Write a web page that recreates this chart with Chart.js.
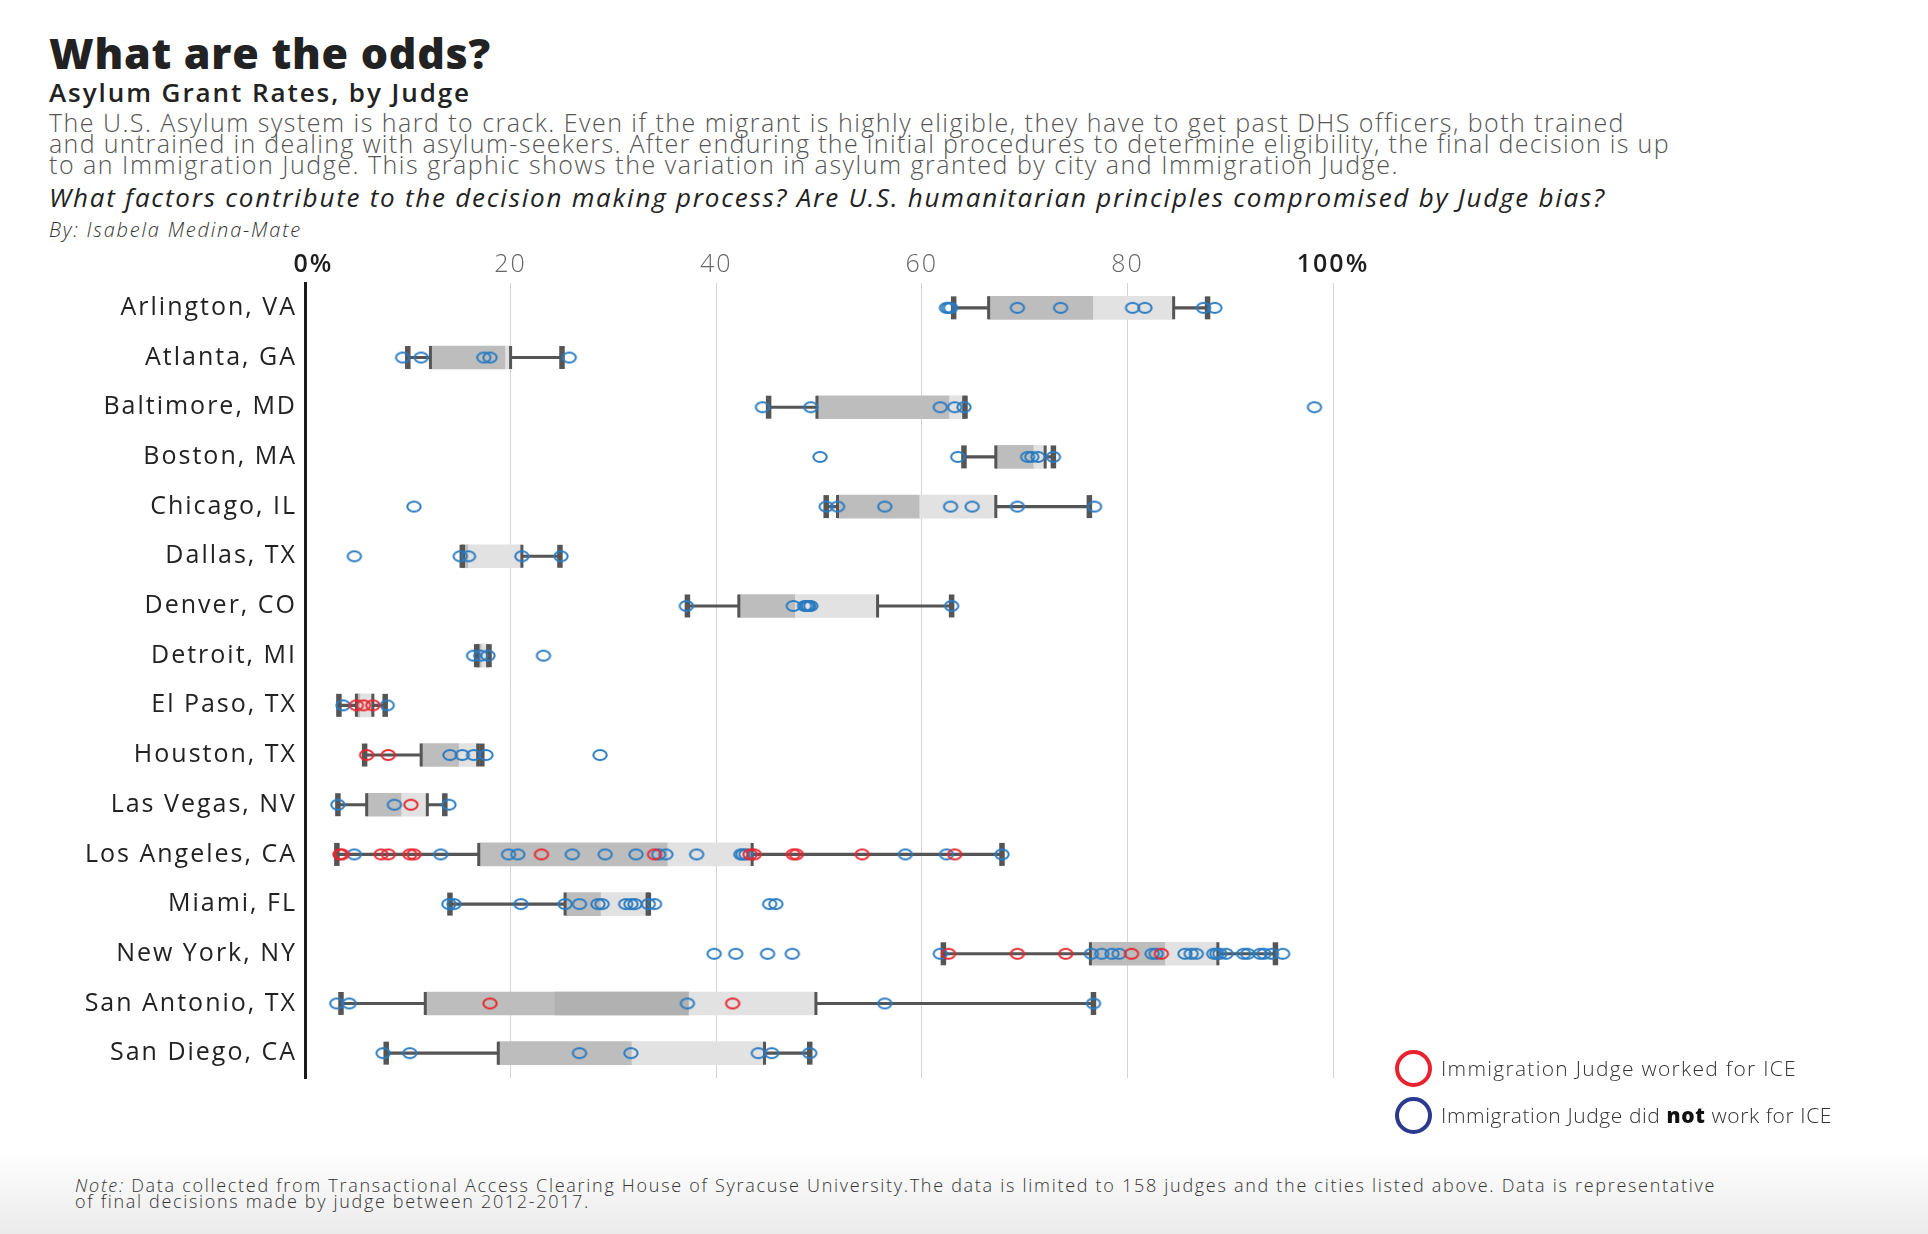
<!DOCTYPE html>
<html>
<head>
<meta charset="utf-8">
<script src="https://cdn.jsdelivr.net/npm/chart.js@4.4.1/dist/chart.umd.min.js"></script>
<style>
  html, body { margin:0; padding:0; }
  body { width:1928px; height:1234px; position:relative; overflow:hidden;
         font-family: "Open Sans", Lato, sans-serif;
         background: linear-gradient(to bottom, #ffffff 0px, #ffffff 1150px, #ebebeb 1234px); }
  .t { position:absolute; left:49px; white-space:nowrap; }
  #title { top:29px; font-size:43px; line-height:48px; font-weight:800; color:#222; }
  #sub { top:78px; font-size:26px; line-height:28px; font-weight:600; color:#222; }
  .para { font-size:25px; line-height:21px; font-weight:300; color:#555; }
  #q { top:183px; font-size:26px; line-height:28px; font-style:italic; color:#222; }
  #by { top:219px; font-size:20px; line-height:22px; font-style:italic; font-weight:300; color:#333; }
  .note { left:75px; font-size:18px; line-height:16px; font-weight:300; color:#333; }
  #chartbox { position:absolute; left:0; top:231px; width:1928px; height:870px; }
  .lc { position:absolute; width:29px; height:29px; border-radius:50%; border:4px solid; }
  .lt { position:absolute; left:1441px; font-size:21px; line-height:24px; font-weight:300; color:#333; white-space:nowrap; }
</style>
</head>
<body>
<div class="t fit" data-w="442" id="title">What are the odds?</div>
<div class="t fit" data-w="422" id="sub">Asylum Grant Rates, by Judge</div>
<div class="t fit para" data-w="1576" style="top:112px">The U.S. Asylum system is hard to crack. Even if the migrant is highly eligible, they have to get past DHS officers, both trained</div>
<div class="t fit para" data-w="1621" style="top:133px">and untrained in dealing with asylum-seekers. After enduring the initial procedures to determine eligibility, the final decision is up</div>
<div class="t fit para" data-w="1350" style="top:154px">to an Immigration Judge. This graphic shows the variation in asylum granted by city and Immigration Judge.</div>
<div class="t fit" data-w="1557" id="q">What factors contribute to the decision making process? Are U.S. humanitarian principles compromised by Judge bias?</div>
<div class="t fit" data-w="253" id="by">By: Isabela Medina-Mate</div>
<div id="chartbox"><canvas id="c"></canvas></div>
<div class="lc" style="left:1395px; top:1050px; border-color:#e8232f;"></div>
<div class="lc" style="left:1395px; top:1097px; border-color:#2b3990;"></div>
<div class="lt fit" data-w="356" style="top:1056px;">Immigration Judge worked for ICE</div>
<div class="lt fit" data-w="391" style="top:1103px;">Immigration Judge did <b style="font-weight:800;color:#111">not</b> work for ICE</div>
<div class="t fit note" data-w="1641" style="top:1177px"><i>Note:</i> Data collected from Transactional Access Clearing House of Syracuse University.The data is limited to 158 judges and the cities listed above. Data is representative</div>
<div class="t fit note" data-w="515" style="top:1193px">of final decisions made by judge between 2012-2017.</div>
<script>
const cities = ["Arlington, VA","Atlanta, GA","Baltimore, MD","Boston, MA","Chicago, IL","Dallas, TX","Denver, CO","Detroit, MI","El Paso, TX","Houston, TX","Las Vegas, NV","Los Angeles, CA","Miami, FL","New York, NY","San Antonio, TX","San Diego, CA"];
const tickLabels = {0:"  0%",20:"20",40:"40",60:"60",80:"80",100:"100%"};

const whiskerLow  = [63.1, 10.0, 45.1, 64.1, 50.7, 15.3, 37.2, 16.7, 3.3, 5.8, 3.2, 3.1, 14.1, 62.1, 3.5, 7.9];
const q1          = [66.5, 12.2, 49.8, 67.2, 51.8, 15.3, 42.2, 16.8, 5.0, 11.3, 6.0, 16.9, 25.3, 76.4, 11.7, 18.8];
const median      = [76.7, 19.5, 62.7, 70.9, 59.8, 15.9, 47.7, 17.2, 5.4, 15.0, 9.4, 35.3, 28.8, 83.7, 37.3, 31.8];
const q3          = [84.5, 20.0, 64.2, 72.0, 67.2, 21.1, 55.7, 17.8, 6.6, 16.8, 11.9, 43.5, 33.4, 88.8, 49.7, 44.7];
const whiskerHigh = [87.8, 25.0, 64.2, 72.8, 76.3, 24.8, 62.9, 17.9, 7.8, 17.2, 13.6, 67.8, 33.4, 94.4, 76.7, 49.1];
const overlapLow  = [null,null,null,null,null,null,null,null,null,null,null,null,null,null,24.3,null];
const overlapHigh = [null,null,null,null,null,null,null,null,null,null,null,null,null,null,37.3,null];

const notIceJudges = [
  [62.4, 62.6, 62.8, 69.3, 73.5, 80.5, 81.7, 87.4, 88.5],
  [9.5, 11.3, 17.4, 18.0, 25.7],
  [44.5, 49.2, 61.8, 63.2, 64.1, 98.2],
  [50.1, 63.5, 70.3, 70.7, 71.3, 72.8],
  [10.6, 50.7, 51.8, 56.4, 62.8, 64.9, 69.3, 76.8],
  [4.8, 15.1, 15.9, 21.1, 24.9],
  [37.1, 47.5, 48.6, 48.8, 48.9, 49.0, 49.2, 62.9],
  [16.4, 17.1, 17.8, 23.2],
  [3.7, 8.0],
  [14.1, 15.3, 16.4, 17.6, 28.7],
  [3.2, 8.7, 14.0],
  [4.8, 13.2, 19.8, 20.7, 26.0, 29.2, 32.2, 34.4, 35.1, 38.1, 42.4, 42.6, 42.9, 58.4, 62.4, 67.8],
  [14.0, 14.5, 21.0, 25.3, 26.7, 28.5, 28.9, 31.2, 31.7, 32.1, 33.4, 34.0, 45.2, 45.8],
  [39.8, 41.9, 45.0, 47.4, 61.8, 76.5, 77.5, 78.5, 79.2, 82.4, 82.8, 85.6, 86.2, 86.7, 88.4, 88.7, 89.0, 89.6, 91.3, 91.7, 92.9, 93.3, 94.0, 95.1],
  [3.1, 4.3, 37.2, 56.4, 76.7],
  [7.6, 10.2, 26.7, 31.7, 44.1, 45.4, 49.1]
];
const iceJudges = [
  [], [], [], [], [], [], [], [],
  [5.0, 5.7, 6.6],
  [6.0, 8.1],
  [10.3],
  [3.4, 3.6, 7.4, 8.1, 10.2, 10.6, 23.0, 34.0, 43.3, 43.7, 47.5, 47.8, 54.2, 63.2],
  [],
  [62.6, 69.3, 74.0, 80.4, 83.3],
  [18.0, 41.6],
  []
];

function fitText() {
  document.querySelectorAll('.fit').forEach(el => {
    el.style.letterSpacing = '0px';
    const target = parseFloat(el.dataset.w);
    const w = el.getBoundingClientRect().width;
    const n = el.textContent.length;
    el.style.letterSpacing = ((target - w) / n).toFixed(3) + 'px';
  });
}
fitText();
if (document.fonts && document.fonts.ready) document.fonts.ready.then(fitText);

function ellipseImg(color) {
  const c = document.createElement('canvas');
  c.width = 18; c.height = 14;
  const g = c.getContext('2d');
  g.strokeStyle = color; g.lineWidth = 2;
  g.beginPath(); g.ellipse(9, 7, 6.7, 5.0, 0, 0, Math.PI * 2); g.stroke();
  return c;
}
const toPoints = (arr) => arr.flatMap((vals, i) => vals.map(v => ({x: v, y: cities[i]})));
const pair = (a, b) => cities.map((c, i) => (a[i] == null ? null : [a[i], b[i]]));
const singles = (...arrs) => arrs.flatMap(a => a.map((v, i) => ({x: v, y: cities[i]})));
const isEnd = ctx => !!(ctx.tick && (ctx.tick.value === 0 || ctx.tick.value === 100));

const spacingPlugin = {
  id: 'spacing',
  beforeDraw(chart) { chart.ctx.letterSpacing = '2px'; }
};

const GREY = '#555555';
new Chart(document.getElementById('c'), {
  type: 'bar',
  plugins: [spacingPlugin],
  data: {
    labels: cities,
    datasets: [
      { label: 'whisker', data: pair(whiskerLow, whiskerHigh), backgroundColor: GREY, barThickness: 2.5, grouped: false, order: 7 },
      { label: 'lower box', data: pair(q1, median), backgroundColor: '#bdbdbd', barThickness: 23, grouped: false, order: 6 },
      { label: 'upper box', data: pair(median, q3), backgroundColor: '#e2e2e2', barThickness: 23, grouped: false, order: 5 },
      { label: 'overlap', data: pair(overlapLow, overlapHigh), backgroundColor: '#b1b1b1', barThickness: 23, grouped: false, order: 4 },
      { type: 'scatter', label: 'box edges', data: singles(q1, q3), pointStyle: 'line', pointRotation: 90, pointRadius: 11.5, pointBorderWidth: 3, pointBorderColor: GREY, order: 3 },
      { type: 'scatter', label: 'caps', data: singles(whiskerLow, whiskerHigh), pointStyle: 'line', pointRotation: 90, pointRadius: 11.5, pointBorderWidth: 5.5, pointBorderColor: GREY, order: 2 },
      { type: 'scatter', label: 'not ICE', data: toPoints(notIceJudges), pointStyle: ellipseImg('#2a7bc0'), order: 1 },
      { type: 'scatter', label: 'ICE', data: toPoints(iceJudges), pointStyle: ellipseImg('#e8262f'), order: 0 }
    ]
  },
  options: {
    indexAxis: 'y',
    responsive: true,
    maintainAspectRatio: false,
    animation: false,
    events: [],
    layout: { autoPadding: false, padding: { left: 0, right: 595, top: 0, bottom: 12 } },
    plugins: { legend: { display: false }, tooltip: { enabled: false } },
    scales: {
      x: {
        type: 'linear', position: 'top', min: 0, max: 100,
        afterFit: s => { s.height = 52; },
        border: { display: false },
        grid: { color: '#d4d4d4', lineWidth: ctx => (ctx.tick && ctx.tick.value === 0 ? 0 : 1), drawTicks: false },
        ticks: {
          stepSize: 20, padding: 3, maxRotation: 0,
          callback: v => tickLabels[v],
          color: ctx => (isEnd(ctx) ? '#1e1e1e' : '#666'),
          font: ctx => ({ family: 'Open Sans', size: 25, weight: (isEnd(ctx) ? 600 : 300) })
        }
      },
      y: {
        type: 'category', labels: cities, offset: true,
        afterFit: s => { s.width = 305; },
        grid: { display: false, drawTicks: false },
        border: { display: true, color: '#1a1a1a', width: 3 },
        ticks: { padding: 8, color: '#222', font: { family: 'Open Sans', size: 25, weight: 500 } }
      }
    }
  }
});
</script>
</body>
</html>
